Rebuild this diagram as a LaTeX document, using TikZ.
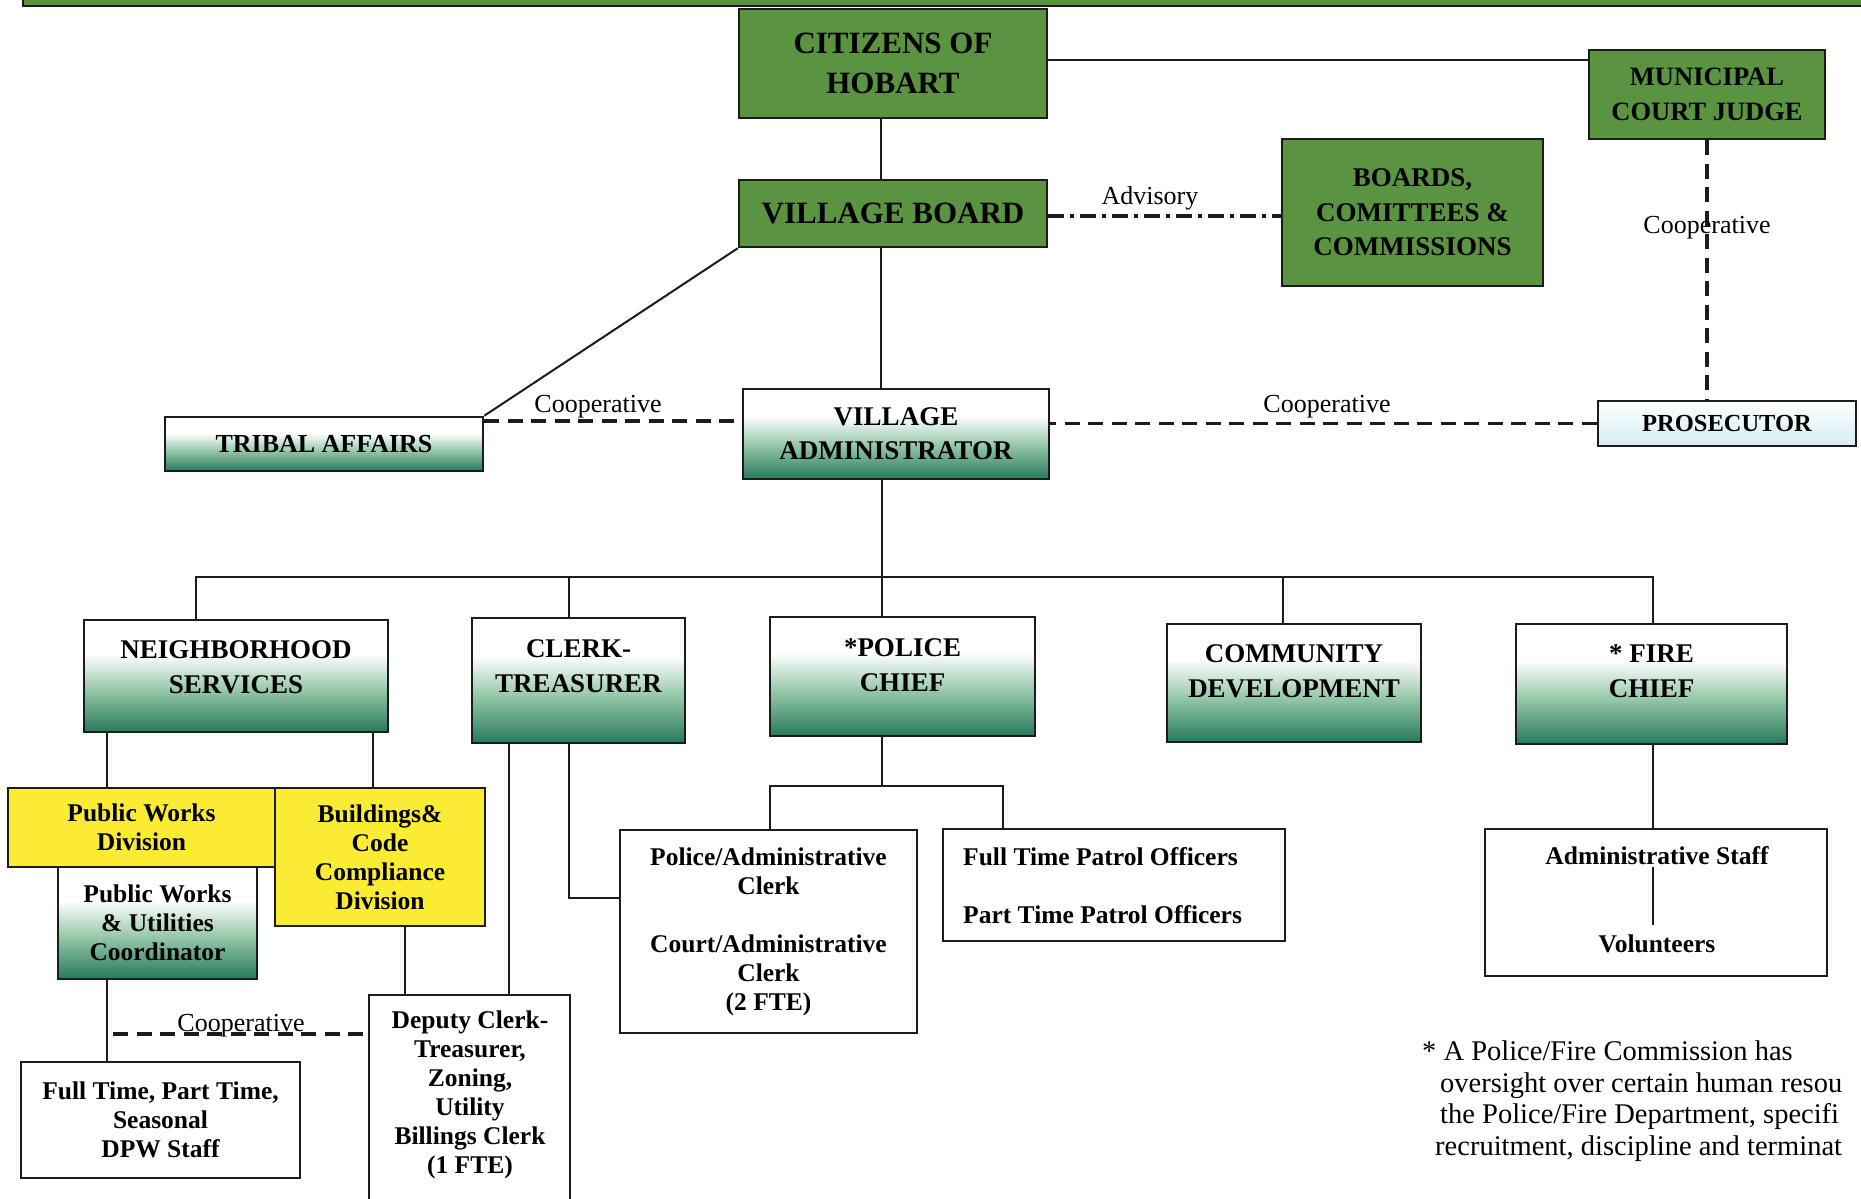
\documentclass[tikz,border=0pt]{standalone}
\usepackage{fontspec}
\setmainfont{Liberation Serif}
\usetikzlibrary{calc}
\definecolor{topgreen}{RGB}{90,148,64}
\definecolor{gdark}{RGB}{38,122,90}
\definecolor{gmid}{RGB}{150,200,170}
\definecolor{pblue}{RGB}{212,237,244}
\definecolor{ylw}{RGB}{250,236,50}
\definecolor{edge}{RGB}{28,28,28}
\pgfdeclareverticalshading{gradgreen}{100bp}{color(0bp)=(gdark); color(25bp)=(gdark); color(44bp)=(gmid); color(60bp)=(white); color(100bp)=(white)}
\tikzset{
  tbox/.style={draw=edge, line width=2.5pt, fill=topgreen, inner sep=0pt, align=center},
  gbox/.style={draw=edge, line width=2.5pt, shade, shading=gradgreen, inner sep=0pt, align=center},
  pbox/.style={draw=edge, line width=2.2pt, top color=white, bottom color=pblue, inner sep=0pt, align=center},
  ybox/.style={draw=edge, line width=2.2pt, fill=ylw, inner sep=0pt, align=center},
  wbox/.style={draw=edge, line width=2.2pt, fill=white, inner sep=0pt, align=center},
  txt/.style={inner sep=0pt, align=center},
  conn/.style={draw=edge, line width=2pt},
  coop/.style={draw=edge, line width=3.5pt, dash pattern=on 15pt off 8.5pt},
  advis/.style={draw=edge, line width=4pt, dash pattern=on 16pt off 6pt on 4pt off 6pt},
  lbl/.style={inner sep=0pt, font=\fontsize{26}{30}\selectfont},
  fnote/.style={inner sep=0pt, anchor=base west, font=\fontsize{28.5}{32}\selectfont},
  ftop/.style={font=\bfseries\fontsize{31}{40}\selectfont},
  fmid/.style={font=\bfseries\fontsize{27}{35}\selectfont},
  flow/.style={font=\bfseries\fontsize{25.5}{29}\selectfont},
}
\begin{document}
\begin{tikzpicture}[x=1pt, y=-1pt]
\useasboundingbox (0,0) rectangle (1861,1199);
\fill[white] (0,0) rectangle (1861,1199);
\clip (0,0) rectangle (1861,1199);

% top banner
\draw[fill=topgreen, draw=edge, line width=2pt] (23,-20) rectangle (1900,6);

% top level
\node[tbox, ftop, minimum width=308pt, minimum height=109pt] (cit) at (893,63.5) {CITIZENS OF\\HOBART};
\node[tbox, font=\bfseries\fontsize{26.5}{35.5}\selectfont, minimum width=236pt, minimum height=89pt] (judge) at (1707,94.5) {MUNICIPAL\\COURT JUDGE};
\node[tbox, ftop, minimum width=308pt, minimum height=67pt] (vb) at (893,213.5) {VILLAGE BOARD};
\node[tbox, font=\bfseries\fontsize{27}{34.5}\selectfont, minimum width=261pt, minimum height=147pt] (boards) at (1412.5,212.5) {BOARDS,\\COMITTEES \&\\COMMISSIONS};
\node[gbox, font=\bfseries\fontsize{27}{34}\selectfont, minimum width=306pt, minimum height=90pt] (va) at (896,434) {VILLAGE\\ADMINISTRATOR};
\node[gbox, font=\bfseries\fontsize{26}{30}\selectfont, minimum width=318pt, minimum height=54pt] (tribal) at (324,444) {TRIBAL AFFAIRS};
\node[pbox, font=\bfseries\fontsize{24.5}{30}\selectfont, minimum width=258pt, minimum height=45pt] (pros) at (1727,423.5) {PROSECUTOR};

% department heads
\node[gbox, minimum width=304pt, minimum height=112pt] (ns) at (236,676) {};
\node[txt, fmid] (nst) at (236,667) {NEIGHBORHOOD\\SERVICES};
\node[gbox, minimum width=213pt, minimum height=125pt] (ct) at (578.5,680.5) {};
\node[txt, fmid] (ctt) at (578.5,666) {CLERK-\\TREASURER};
\node[gbox, minimum width=265pt, minimum height=119pt] (pc) at (902.5,676.5) {};
\node[txt, fmid] (pct) at (902.5,665) {*POLICE\\CHIEF};
\node[gbox, minimum width=254pt, minimum height=118pt] (cd) at (1294,683) {};
\node[txt, fmid] (cdt) at (1294,671) {COMMUNITY\\DEVELOPMENT};
\node[gbox, minimum width=271pt, minimum height=120pt] (fc) at (1651.5,684) {};
\node[txt, fmid] (fct) at (1651.5,671) {* FIRE\\CHIEF};

% lower level
\node[ybox, flow, minimum width=267pt, minimum height=79pt] (pwd) at (141.5,827.5) {Public Works\\Division};
\node[ybox, flow, minimum width=210pt, minimum height=138pt] (bcc) at (380,857) {Buildings\&\\Code\\Compliance\\Division};
\node[gbox, flow, minimum width=199pt, minimum height=112pt] (pwuc) at (157.5,923) {Public Works\\\& Utilities\\Coordinator};
\node[wbox, flow, minimum width=279pt, minimum height=116pt] (dpw) at (160.5,1120) {Full Time, Part Time,\\Seasonal\\DPW Staff};
\node[wbox, minimum width=201pt, minimum height=240pt, anchor=north] (dep) at (469.5,994) {};
\node[txt, flow] (dept) at (470,1095) {Deputy Clerk-\\Treasurer,\\Zoning,\\Utility\\Billings Clerk\\(1 FTE)};
\node[wbox, flow, minimum width=297pt, minimum height=203pt] (pac) at (768.5,931.5) {Police/Administrative\\Clerk\\[29pt]Court/Administrative\\Clerk\\(2 FTE)};
\node[wbox, minimum width=342pt, minimum height=112pt] (ftpo) at (1114,885) {};
\node[txt, flow, align=left, anchor=west] (ftpot) at (963,885.5) {Full Time Patrol Officers\\[28.5pt]Part Time Patrol Officers};
\node[wbox, minimum width=342pt, minimum height=147pt] (admin) at (1656,902.5) {};
\node[txt, flow] (ast) at (1657,856) {Administrative Staff};
\node[txt, flow] (vol) at (1657,944) {Volunteers};

% column coordinates
\coordinate (sp) at (881,0);
\coordinate (bus) at (882,577);
\coordinate (dn) at (196,577);
\coordinate (dc) at (569,577);
\coordinate (dd) at (1283,577);
\coordinate (df) at (1653,577);

% upper connectors
\draw[conn] (cit.south -| sp) -- (vb.north -| sp);
\draw[conn] ($(cit.east)+(0,-3)$) -- ($(cit.east -| judge.west)+(0,-3)$);
\draw[advis] ($(vb.east)+(0,2)$) -- ($(vb.east -| boards.west)+(0,2)$);
\node[lbl, anchor=base] (ladv) at (1150,204) {Advisory};
\draw[coop] (judge.south) -- (judge.south |- pros.north);
\node[lbl, anchor=base] (ljp) at (1707,233) {Cooperative};
\draw[conn] (vb.south -| sp) -- (va.north -| sp);
\draw[conn] (vb.south west) -- (tribal.north east);
\coordinate (t1) at ($(tribal.north east)+(0,5)$);
\draw[coop] (t1) -- (t1 -| va.west);
\node[lbl, anchor=base] (ltr) at (598,412) {Cooperative};
\draw[coop] (pros.west) -- (pros.west -| va.east);
\node[lbl, anchor=base] (lpr) at (1327,412) {Cooperative};

% bus
\draw[conn] (va.south -| bus) -- (bus);
\draw[conn] (dn |- ns.north) -- (dn) -- (df) -- (df |- fc.north);
\draw[conn] (dc) -- (dc |- ct.north);
\draw[conn] (bus) -- (bus |- pc.north);
\draw[conn] (dd) -- (dd |- cd.north);

% neighborhood services subtree
\coordinate (c1) at (107,0);
\coordinate (c2) at (373,0);
\coordinate (c3) at (405,0);
\coordinate (c4) at (509,0);
\draw[conn] (ns.south -| c1) -- (pwd.north -| c1);
\draw[conn] (ns.south -| c2) -- (bcc.north -| c2);
\draw[conn] (pwuc.south -| c1) -- (dpw.north -| c1);
\draw[conn] (bcc.south -| c3) -- (dep.north -| c3);
\draw[conn] (ct.south -| c4) -- (dep.north -| c4);
\coordinate (cb) at (113,1034);
\draw[coop] (cb) -- (cb -| dep.west);
\node[lbl, anchor=base] (lcb) at (241,1031) {Cooperative};

% clerk-treasurer to police clerk
\coordinate (ck) at (569,898);
\draw[conn] (ct.south -| ck) -- (ck) -- (ck -| pac.west);

% police chief subtree
\coordinate (pb) at (882,786);
\coordinate (pl) at (770,786);
\coordinate (pr) at (1003,786);
\draw[conn] (pc.south -| pb) -- (pb);
\draw[conn] (pac.north -| pl) -- (pl) -- (pr) -- (pr |- ftpo.north);

% fire chief subtree
\draw[conn] (fc.south -| df) -- (admin.north -| df);
\draw[conn] ($(ast.south -| df)+(0,2)$) -- ($(vol.north -| df)+(0,-10)$);

% footnote (cut at the right edge as in the reference)
\node[fnote] (fn1) at (1422,1060) {* A Police/Fire Commission has};
\node[fnote] (fn2) at (1440,1092) {oversight over certain human resou};
\node[fnote] (fn3) at (1440,1123) {the Police/Fire Department, specifi};
\node[fnote] (fn4) at (1435,1155) {recruitment, discipline and terminat};
\end{tikzpicture}
\end{document}
